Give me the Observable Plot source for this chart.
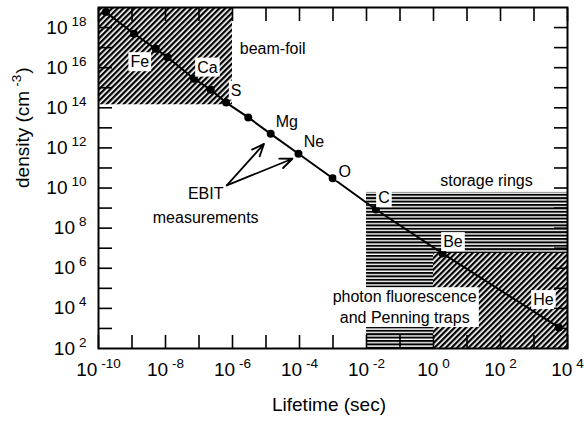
<!DOCTYPE html>
<html><head><meta charset="utf-8">
<script src="https://cdn.jsdelivr.net/npm/d3@7"></script>
<script src="https://cdn.jsdelivr.net/npm/@observablehq/plot@0.6"></script>
<style>body{margin:0;background:#fff} svg{display:block}</style>
</head><body><div id="chart"></div>
<script>
// ---- data (base-10 exponents) ----
// measured points along the density–lifetime line
const pointLogLifetime = [-9.78, -8.94, -8.29, -7.94, -7.15, -6.65, -6.19, -5.53, -4.86, -4.03, -3.01, -1.72, 0.27, 3.74];
const pointLogDensity  = [18.77, 17.69, 16.94, 16.52, 15.45, 14.90, 14.26, 13.52, 12.70, 11.71, 10.49, 8.93, 6.74, 3.05];

// ion labels
const ionNames = ["Fe", "Ca", "S", "Mg", "Ne", "O", "C", "Be", "He"];
const ionLogLifetime = [-8.77, -6.75, -5.89, -4.38, -3.57, -2.65, -1.48, 0.58, 3.28];
const ionLogDensity  = [16.28, 16.01, 14.86, 13.32, 12.30, 10.82, 9.50, 7.31, 4.42];

// experimental regions
const regionNames = ["storage rings", "beam-foil", "photon fluorescence\nand Penning traps"];
const regionLogX1 = [-2, -10, 0];
const regionLogX2 = [4, -6, 4];
const regionLogY1 = [2, 14.15, 2];
const regionLogY2 = [9.78, 19, 6.74];
const regionLabelLogX = [1.58, -4.80, -0.86];
const regionLabelLogY = [10.38, 16.93, 4.12];

// EBIT annotation
const ebitLabel = "EBIT\nmeasurements";
const ebitLabelLog = [-6.80, 9.25];
const ebitArrowFrom = [[-6.17, 10.13], [-6.17, 10.13]];
const ebitArrowTo   = [[-5.06, 12.20], [-4.21, 11.46]];

// axes
const xLabelExps = d3.range(-10, 5, 2);      // 10^-10 ... 10^4
const xTickExps = d3.range(-10, 5);
const yLabelExps = d3.range(2, 19, 2);       // 10^2 ... 10^18
const yTickExps = d3.range(3, 19);
const xTitle = "Lifetime (sec)";
const yTitle = "density (cm^-3)";

// ---- build tables ----
const p10 = (e) => Math.pow(10, e);
const points = pointLogLifetime.map((e, i) => ({x: p10(e), y: p10(pointLogDensity[i])}));
const ions = ionNames.map((n, i) => ({name: n, x: p10(ionLogLifetime[i]), y: p10(ionLogDensity[i])}));
const regions = regionNames.map((n, i) => ({name: n, x1: p10(regionLogX1[i]), x2: p10(regionLogX2[i]), y1: p10(regionLogY1[i]), y2: p10(regionLogY2[i]), lx: p10(regionLabelLogX[i]), ly: p10(regionLabelLogY[i])}));
const arrows = ebitArrowFrom.map((f, i) => ({x1: p10(f[0]), y1: p10(f[1]), x2: p10(ebitArrowTo[i][0]), y2: p10(ebitArrowTo[i][1])}));
const fmt = (d) => `10^${Math.round(Math.log10(d))}`;
const blank = () => "";

const FONT = "'Liberation Sans', Arial, Helvetica, sans-serif";

const svg = Plot.plot({
  width: 584, height: 424,
  marginLeft: 98, marginRight: 17, marginTop: 7, marginBottom: 76,
  style: {fontFamily: FONT, fontSize: "16px", background: "white", color: "black"},
  x: {type: "log", domain: [1e-10, 1e4]},
  y: {type: "log", domain: [1e2, 1e19]},
  marks: [
    Plot.rect(regions.filter(r => r.name === "storage rings"), {x1: "x1", x2: "x2", y1: "y1", y2: "y2", fill: "url(#hlines)"}),
    Plot.rect(regions.filter(r => r.name !== "storage rings"), {x1: "x1", x2: "x2", y1: "y1", y2: "y2", fill: "url(#hatch)"}),
    Plot.line(points, {x: "x", y: "y", stroke: "black", strokeWidth: 2}),
    Plot.dot(points, {x: "x", y: "y", r: 4, fill: "black", stroke: "none"}),
    Plot.arrow(arrows, {x1: "x1", y1: "y1", x2: "x2", y2: "y2", stroke: "black", strokeWidth: 1.8, headLength: 11, headAngle: 45}),
    Plot.text(ions, {x: "x", y: "y", text: "name", fontSize: 16, fill: "black", className: "boxed"}),
    Plot.text(regions.filter(r => r.name.startsWith("photon")), {x: "lx", y: "ly", text: "name", fontSize: 16, lineHeight: 1.3, fill: "black", className: "boxed"}),
    Plot.text(regions.filter(r => !r.name.startsWith("photon")), {x: "lx", y: "ly", text: "name", fontSize: 16, fill: "black"}),
    Plot.text([ebitLabel], {x: p10(ebitLabelLog[0]), y: p10(ebitLabelLog[1]), text: d => d, fontSize: 16, lineHeight: 1.5, fill: "black"}),
    // tick labels
    Plot.axisX({ticks: xLabelExps.map(p10), anchor: "bottom", tickSize: 0, tickPadding: 14, tickFormat: fmt, fontSize: 19, label: null, className: "ticklab"}),
    Plot.axisY({ticks: yLabelExps.map(p10), anchor: "left", tickSize: 0, tickPadding: 12, tickFormat: fmt, fontSize: 19, label: null, className: "ticklab"}),
    // inward ticks on all four sides
    Plot.axisX({ticks: xTickExps.map(p10), anchor: "bottom", tickSize: -13, tickFormat: blank, strokeWidth: 1.6, label: null}),
    Plot.axisX({ticks: xTickExps.map(p10), anchor: "top", tickSize: -13, tickFormat: blank, strokeWidth: 1.6, label: null}),
    Plot.axisY({ticks: yTickExps.map(p10), anchor: "left", tickSize: -14, tickFormat: blank, strokeWidth: 1.6, label: null}),
    Plot.axisY({ticks: yTickExps.map(p10), anchor: "right", tickSize: -14, tickFormat: blank, strokeWidth: 1.6, label: null}),
    Plot.text([xTitle], {frameAnchor: "bottom", dx: -4, dy: 62, fontSize: 19, text: d => d}),
    Plot.text([yTitle], {frameAnchor: "left", rotate: -90, dx: -76, dy: 10, fontSize: 19, text: d => d}),
    Plot.frame({stroke: "black", strokeWidth: 2})
  ]
});
document.getElementById("chart").append(svg);

// ---- patterns ----
const defs = d3.select(svg).insert("defs", ":first-child");
const hatch = defs.append("pattern").attr("id", "hatch").attr("patternUnits", "userSpaceOnUse")
  .attr("width", 4).attr("height", 4).attr("patternTransform", "rotate(45)");
hatch.append("rect").attr("width", 4).attr("height", 4).attr("fill", "white");
hatch.append("rect").attr("width", 2.3).attr("height", 4).attr("fill", "black");
const hl = defs.append("pattern").attr("id", "hlines").attr("patternUnits", "userSpaceOnUse")
  .attr("width", 10).attr("height", 3.4);
hl.append("rect").attr("width", 10).attr("height", 3.4).attr("fill", "white");
hl.append("rect").attr("width", 10).attr("height", 2).attr("fill", "black");

// ---- superscripts ----
const NS = "http://www.w3.org/2000/svg";
d3.select(svg).selectAll("text").each(function () {
  if (this.querySelector("tspan")) return;
  const s = this.textContent;
  const m = s.match(/^(.*?)\^(-?\d+)(.*)$/);
  if (!m) return;
  this.setAttribute("font-size", 19);
  this.textContent = "";
  this.append(document.createTextNode(m[1]));
  const t = document.createElementNS(NS, "tspan");
  t.setAttribute("dy", -8); t.setAttribute("dx", 4); t.setAttribute("font-size", 13.5);
  t.textContent = m[2];
  this.append(t);
  if (m[3]) {
    const r = document.createElementNS(NS, "tspan");
    r.setAttribute("dy", 8); r.setAttribute("dx", 1);
    r.textContent = m[3];
    this.append(r);
  }
});

// ---- white boxes behind labels that sit on hatching ----
const boxedTexts = new Set([...ionNames, regionNames[2].replace("\n", "")]);
d3.select(svg).selectAll("text").each(function () {
  const inBoxedGroup = this.closest && this.closest("g.boxed");
  if (!inBoxedGroup && !boxedTexts.has(this.textContent)) return;
  const b = this.getBBox();
  const pad = 2;
  const rect = document.createElementNS(NS, "rect");
  rect.setAttribute("x", b.x - pad); rect.setAttribute("y", b.y - pad + 1);
  rect.setAttribute("width", b.width + 2 * pad); rect.setAttribute("height", b.height + 2 * pad - 2);
  rect.setAttribute("fill", "white");
  const tr = this.getAttribute("transform");
  if (tr) rect.setAttribute("transform", tr);
  this.parentNode.insertBefore(rect, this);
});
</script></body></html>
